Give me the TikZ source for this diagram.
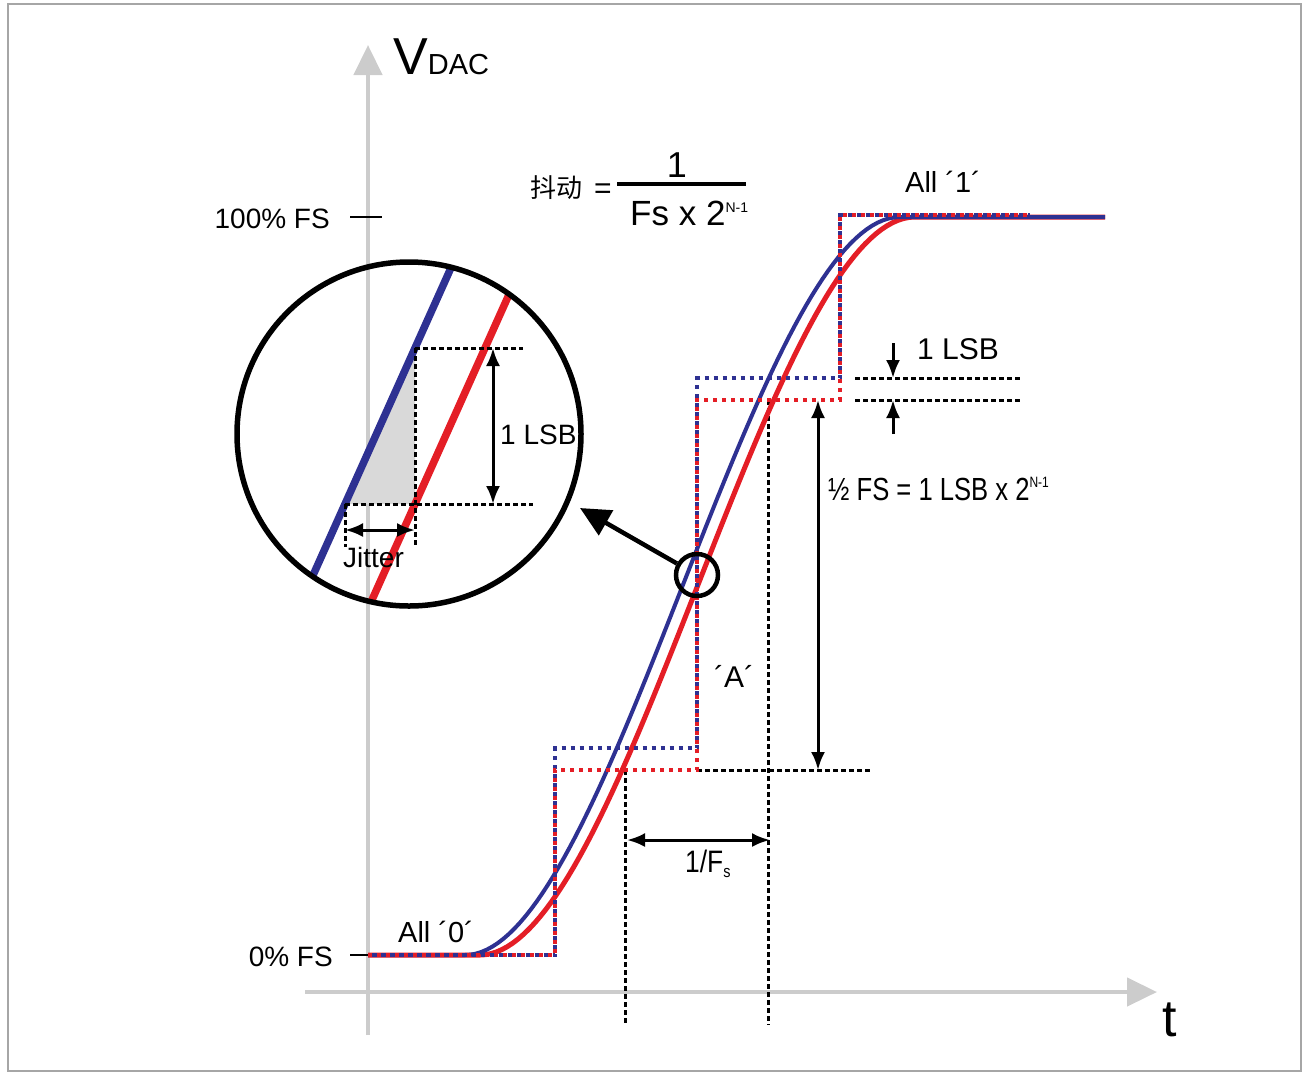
\documentclass[tikz,border=0pt]{standalone}
\usepackage{fontspec}
\setmainfont{Liberation Sans}
\newfontfamily\cjk{Noto Sans CJK SC}
\usetikzlibrary{arrows.meta}
\definecolor{dacblue}{HTML}{2E3192}
\definecolor{dacred}{HTML}{E41E26}
\definecolor{axisgray}{HTML}{CCCCCC}
\newcommand{\fsz}[1]{\fontsize{#1}{#1}\selectfont}

\begin{document}
\begin{tikzpicture}[
        x=1pt, y=-1pt,
        axis/.style={line width=4.5pt, axisgray, -{Triangle[length=30pt,width=28pt]}},
        guide/.style={line width=3pt, dash pattern=on 5pt off 3pt},
        dim/.style={line width=3pt, {Latex[length=18pt,width=14pt]}-{Latex[length=18pt,width=14pt]}},
        onearrow/.style={line width=3pt, -{Latex[length=18pt,width=14pt]}},
        stair/.style={line width=4pt, dash pattern=on 4pt off 5pt},
        curve/.style={line width=4pt, line join=round},
        lbl/.style={inner sep=0pt, font=\fsz{28}}
    ]
    \useasboundingbox (0,0) rectangle (1308,1077);
    \draw[gray!70, line width=1.5pt] (8,4) rectangle (1301,1071);

    % axes
    \coordinate (ybot) at (368,1035);
    \coordinate (ytop) at (368,45);
    \coordinate (xleft) at (305,992);
    \coordinate (xright) at (1157,992);
    \draw[axis] (ybot) -- (ytop);
    \draw[axis] (xleft) -- (xright);
    \node[lbl, anchor=base west] (vdac) at (393,74) {\fsz{52}V\fsz{29}DAC};
    \node[lbl, anchor=base west, font=\fsz{52}] (tlbl) at (1162,1036) {t};

    \draw[line width=2.5pt] (350,217) -- (382,217);
    \draw[line width=2.5pt] (350,955) -- (368,955);
    \node[lbl, anchor=base east] (full) at (330,228) {100\% FS};
    \node[lbl, anchor=base east] (zero) at (333,966) {0\% FS};

    % formula
    \node[lbl, anchor=base west, font=\cjk\fsz{26}] (jitcn) at (530,197) {抖动};
    \node[lbl, anchor=base west, font=\fsz{30}] (eq) at (594,198) {=};
    \coordinate (fracl) at (617,184);
    \coordinate (fracr) at (746,184);
    \draw[line width=3.5pt] (fracl) -- (fracr);
    \node[lbl, anchor=base, font=\fsz{36}] (num) at (677,177) {1};
    \node[lbl, anchor=base west, font=\fsz{35}] (den) at (630,225) {Fs x 2\raisebox{13pt}{\fsz{14}N-1}};

    \node[lbl, anchor=base west, font=\fsz{29}] (allone) at (905,192) {All ´1´};
    \node[lbl, anchor=base west, font=\fsz{29}] (allzero) at (398,942) {All ´0´};

    % guides
    \draw[guide] (697,770) -- (870,770);
    \draw[guide] (855,378) -- (1022,378);
    \draw[guide] (855,400) -- (1022,400);
    \draw[guide] (625,770) -- (625,1025);
    \draw[guide] (768,400) -- (768,1025);

    % curves
    \draw[curve, dacred, line width=5pt] (368,955) -- plot[domain=0:1, samples=80, variable=\u]
        ({480+435*\u}, {955-738*(3*\u*\u-2*\u*\u*\u)}) -- (1105,217);
    \draw[curve, dacblue, line width=4pt] (368,955) -- plot[domain=0:1, samples=80, variable=\u]
        ({465+435*\u}, {955-738*(3*\u*\u-2*\u*\u*\u)}) -- (1105,217);

    % staircases
    \draw[stair, dacblue, dash phase=4.5pt] (368,955) -- (555,955) -- (555,748) -- (697,748)
        -- (697,378) -- (840,378) -- (840,215) -- (1030,215);
    \draw[stair, dacred] (368,955) -- (555,955) -- (555,770) -- (697,770)
        -- (697,400) -- (840,400) -- (840,215) -- (1030,215);

    % dimensions
    \coordinate (lsbtop) at (893,343);
    \coordinate (lsbhi) at (893,378);
    \coordinate (lsbbot) at (893,434);
    \coordinate (lsblo) at (893,400);
    \draw[onearrow] (lsbtop) -- (lsbhi);
    \draw[onearrow] (lsbbot) -- (lsblo);
    \node[lbl, anchor=base west, font=\fsz{30}] (lsb) at (917,359) {1 LSB};

    \coordinate (halfhi) at (818,400);
    \coordinate (halflo) at (818,770);
    \draw[dim] (halfhi) -- (halflo);
    \node[lbl, anchor=base west] (half) at (828,500)
        {\scalebox{0.8}[1]{\fsz{32}½ FS = 1 LSB x 2\raisebox{13pt}{\fsz{15}N-1}}};

    \coordinate (perl) at (627,840);
    \coordinate (perr) at (770,840);
    \draw[dim] (perl) -- (perr);
    \node[lbl, anchor=base west] (per) at (685,872)
        {\scalebox{0.85}[1]{\fsz{31}1/F\raisebox{-5pt}{\fsz{17}s}}};
    \node[lbl, font=\fsz{30}] (a) at (734,676) {´A´};

    % magnifier
    \begin{scope}
        \clip (409,434) circle[radius=172pt];
        \fill[gray!30] (345,504) -- (415,504) -- (415,348) -- cycle;
        \draw[line width=7.5pt, dacblue] (275,660) -- (485,192);
        \draw[line width=7.5pt, dacred] (345,660) -- (555,192);
    \end{scope}
    \draw[guide] (415,348) -- (523,348);
    \draw[guide] (345,504) -- (533,504);
    \draw[guide] (415,348) -- (415,547);
    \draw[guide] (345,504) -- (345,547);
    \coordinate (lsbin1) at (493,348);
    \coordinate (lsbin2) at (493,504);
    \draw[dim] (lsbin1) -- (lsbin2);
    \node[lbl, anchor=base west] (lsbin) at (500,444) {1 LSB};
    \coordinate (jl) at (345,530);
    \coordinate (jr) at (415,530);
    \draw[dim] (jl) -- (jr);
    \node[lbl, anchor=base west] (jitter) at (343,567) {Jitter};
    \node[circle, draw, line width=5.5pt, minimum size=344pt, inner sep=0pt] (lens) at (409,434) {};

    \node[circle, draw, line width=4.5pt, minimum size=42pt, inner sep=0pt] (spot) at (697,575) {};
    \coordinate (zoomtip) at (580,508);
    \draw[line width=4.5pt, -{Triangle[length=30pt,width=28pt]}] (spot) -- (zoomtip);
\end{tikzpicture}
\end{document}
